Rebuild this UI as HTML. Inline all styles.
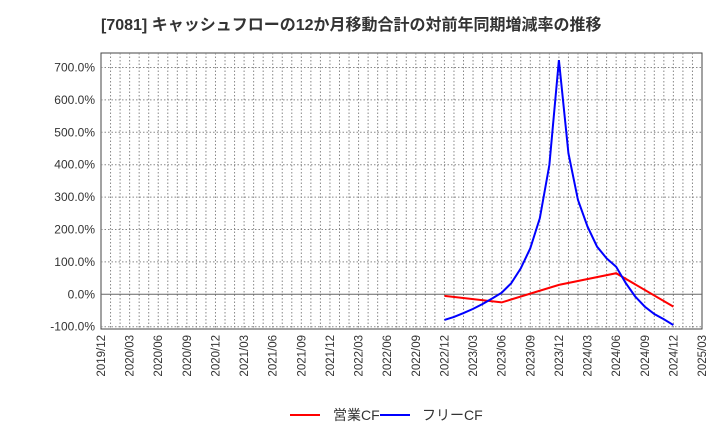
<!DOCTYPE html>
<html><head><meta charset="utf-8"><style>
body{margin:0;background:#fff;font-family:"Liberation Sans","Noto Sans CJK JP",sans-serif;}
svg text{font-family:"Liberation Sans","Noto Sans CJK JP",sans-serif;}
</style></head><body>
<svg id="c" width="720" height="440" xmlns="http://www.w3.org/2000/svg">
<text x="101" y="30" font-size="16" font-weight="bold" fill="#333">[7081]  キャッシュフローの12か月移動合計の対前年同期増減率の推移</text>
<rect x="101" y="53" width="601" height="276" fill="#fff" stroke="#444"/>
<g id="grid"></g><g id="ax"></g><g id="series"></g>
<g>
<line x1="290" y1="415" x2="320" y2="415" stroke="#f00" stroke-width="2"/>
<text x="333" y="420" font-size="14" fill="#333">営業CF</text>
<line x1="380" y1="415" x2="410" y2="415" stroke="#00f" stroke-width="2"/>
<text x="422" y="420" font-size="14" fill="#333">フリーCF</text>
</g>
</svg>
<script>
const xTickLabels=["2019/12","2020/03","2020/06","2020/09","2020/12","2021/03","2021/06","2021/09","2021/12","2022/03","2022/06","2022/09","2022/12","2023/03","2023/06","2023/09","2023/12","2024/03","2024/06","2024/09","2024/12","2025/03"];
const yTicks=[-100,0,100,200,300,400,500,600,700];
const redMonths=[36,42,48,54,60];
const redValues=[-5,-25,29,65,-38];
const blueMonths=[36,37,38,39,40,41,42,43,44,45,46,47,48,49,50,51,52,53,54,55,56,57,58,59,60];
const blueValues=[-79,-70,-58,-45,-30,-13,5,34,80,142,235,399,723,435,291,209,147,111,85,35,-7,-38,-61,-77,-95];
const NS="http://www.w3.org/2000/svg";
const L=101,R=702,T=53,B=329;
const x=m=>L+m*(R-L)/63;
const y=v=>294.3-v*0.324;
function mk(tag,attrs,parent){const e=document.createElementNS(NS,tag);for(const k in attrs)e.setAttribute(k,attrs[k]);document.getElementById(parent).appendChild(e);return e;}
for(let m=1;m<63;m++){
  const g=mk('line',{x1:x(m),x2:x(m),y1:T,y2:B,stroke:'#888','stroke-dasharray':'1.5,2','stroke-width':1},'grid');
  
  
}
yTicks.forEach(v=>{
  const g=mk('line',{x1:L,x2:R,y1:y(v),y2:y(v),stroke:v===0?'#666':'#888','stroke-dasharray':v===0?'':'1.5,2','stroke-width':1},'grid');
  
  
  const t=mk('text',{x:L-6,y:y(v)+4,'font-size':12,fill:'#333','text-anchor':'end'},'ax');
  t.textContent=v.toFixed(1)+'%';
  
  
});
xTickLabels.forEach((s,i)=>{
  const xx=x(i*3);
  const t=mk('text',{x:0,y:0,'font-size':11.5,fill:'#333','text-anchor':'end',transform:`translate(${xx+4},${B+6}) rotate(-90)`},'ax');
  t.textContent=s;
  
  
});
const rp=mk('polyline',{points:redMonths.map((m,i)=>x(m)+','+y(redValues[i])).join(' '),fill:'none',stroke:'#f00','stroke-width':2},'series');


const bp=mk('polyline',{points:blueMonths.map((m,i)=>x(m)+','+y(blueValues[i])).join(' '),fill:'none',stroke:'#00f','stroke-width':2},'series');


</script>
</body></html>
